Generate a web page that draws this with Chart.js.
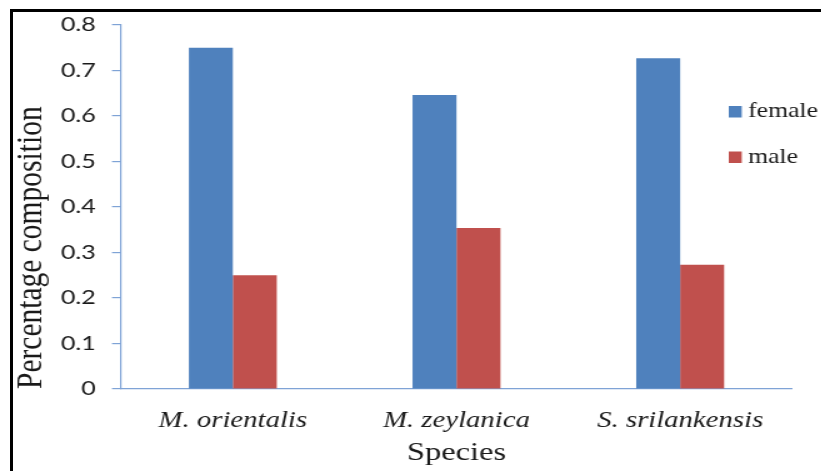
<!DOCTYPE html>
<html>
<head>
<meta charset="utf-8">
<script src="https://cdn.jsdelivr.net/npm/chart.js@4.4.1/dist/chart.umd.min.js"></script>
<style>
  html, body { margin: 0; padding: 0; background: #fff; overflow: hidden; }
  #wrap { position: relative; width: 821px; height: 471px; overflow: hidden; }
  #frame {
    position: absolute; left: 10px; top: 9px; width: 900px; height: 600px;
    border: 3px solid #000; box-sizing: border-box;
  }
  /* the chart is laid out at a narrower width and widened horizontally */
  #chart {
    position: absolute; left: 0; top: 0;
    width: 657px; height: 471px;
    transform: scaleX(1.25); transform-origin: 0 0;
  }
</style>
</head>
<body>
<div id="wrap">
  <div id="frame"></div>
  <canvas id="chart" width="657" height="471"></canvas>
</div>
<script>
// Sex composition of each species
const species = ['M. orientalis', 'M. zeylanica', 'S. srilankensis'];
const female = [0.75, 0.646, 0.727];
const male = [0.25, 0.354, 0.273];
const yTicks = [0, 0.1, 0.2, 0.3, 0.4, 0.5, 0.6, 0.7, 0.8];

const FEMALE_COLOR = '#4f81bd';
const MALE_COLOR = '#c0504d';
const AXIS_COLOR = '#7fa3d6';
const TEXT_COLOR = '#1a1a1a';
const SERIF = '"Liberation Serif", "Times New Roman", serif';
const SANS = 'Lato, "Open Sans", sans-serif';

Chart.defaults.font.family = SERIF;
Chart.defaults.color = TEXT_COLOR;

// Legend drawn inside the plot, to the right of the last group
const sideLegend = {
  id: 'sideLegend',
  afterDraw(chart) {
    const ctx = chart.ctx;
    const x = 583, y0 = 112, gap = 45.5;
    ctx.save();
    ctx.font = '20.6px ' + SERIF;
    ctx.textBaseline = 'middle';
    ctx.textAlign = 'left';
    chart.data.datasets.forEach((ds, i) => {
      const y = y0 + i * gap;
      ctx.fillStyle = ds.backgroundColor;
      ctx.fillRect(x, y - 6, 10.4, 11.5);
      ctx.fillStyle = TEXT_COLOR;
      ctx.fillText(ds.label, x + 15.4, y);
    });
    ctx.restore();
  }
};

function draw() {
  new Chart(document.getElementById('chart'), {
    type: 'bar',
    data: {
      labels: species,
      datasets: [
        { label: 'female', data: female, backgroundColor: FEMALE_COLOR },
        { label: 'male', data: male, backgroundColor: MALE_COLOR }
      ]
    },
    options: {
      responsive: false,
      animation: false,
      devicePixelRatio: 1,
      layout: { padding: { left: 0, right: 23.4, top: 22, bottom: 0 } },
      datasets: { bar: { categoryPercentage: 0.393, barPercentage: 1 } },
      plugins: { legend: { display: false }, tooltip: { enabled: false } },
      scales: {
        x: {
          grid: { display: true, drawOnChartArea: false, drawTicks: false, color: 'rgba(0,0,0,0)' },
          border: { display: true, color: AXIS_COLOR, width: 1.2 },
          ticks: { padding: 18, font: { family: SERIF, size: 23, style: 'italic' }, color: TEXT_COLOR, maxRotation: 0 },
          title: { display: true, text: 'Species', font: { family: SERIF, size: 26 }, color: TEXT_COLOR, padding: { top: 0, bottom: 2 } },
          afterFit(scale) { scale.height = 82; }
        },
        y: {
          min: 0, max: 0.8,
          afterBuildTicks(scale) { scale.ticks = yTicks.map(v => ({ value: v })); },
          grid: { display: true, drawOnChartArea: false, drawTicks: true, tickLength: 7.2, color: AXIS_COLOR, lineWidth: 1.2 },
          border: { display: true, color: AXIS_COLOR, width: 1.2 },
          ticks: {
            padding: 13,
            font: { family: SANS, size: 20 },
            color: TEXT_COLOR,
            callback: v => String(v)
          },
          title: {
            display: true, text: 'Percentage composition', align: 'start',
            font: { family: SERIF, size: 29.5 }, color: TEXT_COLOR, padding: { top: 8, bottom: 0 }
          },
          afterFit(scale) { scale.width = 96.8; }
        }
      }
    },
    plugins: [sideLegend]
  });
}

// make sure the local fonts are ready before the canvas text is drawn
const fontLoads = [
  '20px Lato', '20px "Liberation Serif"', 'italic 23px "Liberation Serif"'
].map(f => document.fonts.load(f).catch(() => null));
Promise.all(fontLoads).then(draw, draw);
</script>
</body>
</html>
